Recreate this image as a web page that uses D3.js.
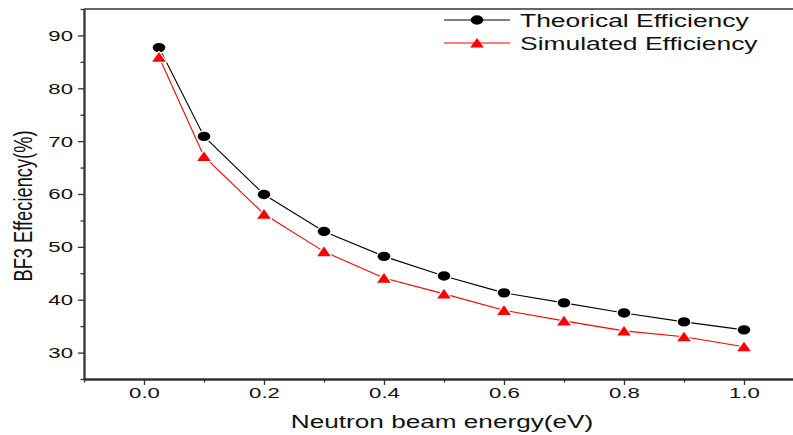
<!DOCTYPE html>
<html>
<head>
<meta charset="utf-8">
<script src="https://cdn.jsdelivr.net/npm/d3@7"></script>
<style>
  body { margin: 0; background: #fff; }
  svg { display: block; font-family: Arial, "Liberation Sans", sans-serif; }
</style>
</head>
<body>
<svg width="793" height="435"></svg>
<script>
// neutron energy (eV)
let energy = [0.025, 0.1, 0.2, 0.3, 0.4, 0.5, 0.6, 0.7, 0.8, 0.9, 1.0];
let theorical = [87.7, 70.9, 59.9, 52.9, 48.2, 44.5, 41.3, 39.4, 37.5, 35.8, 34.3];
let simulated = [85.9, 67.1, 56.2, 49.1, 44.1, 41.1, 38.0, 36.0, 34.1, 33.0, 31.1];
let xMajor = [0.0, 0.2, 0.4, 0.6, 0.8, 1.0];
let xMinor = [-0.1, 0.1, 0.3, 0.5, 0.7, 0.9];
let yMajor = [30, 40, 50, 60, 70, 80, 90];
let yMinor = [25, 35, 45, 55, 65, 75, 85, 95];

let sx = 1.43; // the picture is stretched sideways
let axisColor = "#333";

let svg = d3.select("svg");

let scX = d3.scaleLinear().domain([-0.1, 1.1]).range([84, 804]);
let scY = d3.scaleLinear().domain([25, 95]).range([379, 9]);

// frame top line
svg.append("line")
  .attr("x1", 84).attr("x2", 804)
  .attr("y1", scY(95)).attr("y2", scY(95))
  .attr("stroke", axisColor).attr("stroke-width", 1.6);

function styleAxis(g) {
  g.select(".domain").attr("stroke", axisColor).attr("stroke-width", 1.8);
  g.selectAll(".tick line").attr("stroke", axisColor).attr("stroke-width", 1.3);
}

// y axis
let gy = svg.append("g").attr("transform", "translate(84,0)");
gy.append("g")
  .call(d3.axisLeft(scY).tickValues(yMinor).tickSize(3.5).tickFormat("").tickSizeOuter(0))
  .call(styleAxis);
gy.append("g")
  .call(d3.axisLeft(scY).tickValues(yMajor).tickSize(6).tickSizeOuter(0).tickPadding(5))
  .call(styleAxis)
  .call(g => g.selectAll(".tick text")
    .attr("font-size", 15.5).attr("font-family", "Arial, 'Liberation Sans', sans-serif")
    .attr("fill", "#111")
    .attr("x", -11 / sx)
    .attr("transform", `scale(${sx},1)`));

// x axis
let gx = svg.append("g").attr("transform", "translate(0,379)");
gx.append("g")
  .call(d3.axisBottom(scX).tickValues(xMinor).tickSize(3.5).tickFormat("").tickSizeOuter(0))
  .call(styleAxis);
gx.append("g")
  .call(d3.axisBottom(scX).tickValues(xMajor).tickSize(6).tickSizeOuter(0)
    .tickFormat(d3.format(".1f")))
  .call(styleAxis)
  .call(g => g.selectAll(".tick text")
    .attr("font-size", 15.5).attr("font-family", "Arial, 'Liberation Sans', sans-serif")
    .attr("fill", "#111")
    .attr("y", 8)
    .attr("transform", `scale(${sx},1)`));

// axis titles
svg.append("text")
  .attr("transform", `translate(442,428) scale(${sx},1)`)
  .attr("text-anchor", "middle")
  .attr("font-size", 18.3).attr("fill", "#111")
  .text("Neutron beam energy(eV)");

svg.append("text")
  .attr("transform", `translate(32,206) scale(${sx},1) rotate(-90)`)
  .attr("text-anchor", "middle")
  .attr("font-size", 18.3).attr("fill", "#111")
  .text("BF3 Effeciency(%)");

// lines
let series = [
  { name: "Theorical Efficiency", values: theorical, color: "black", shape: "circle" },
  { name: "Simulated Efficiency", values: simulated, color: "red", shape: "triangle" }
];

let lineMaker = d3.line()
  .x((d, i) => scX(energy[i]))
  .y(d => scY(d));

series.forEach(s => {
  svg.append("path")
    .attr("fill", "none").attr("stroke", s.color).attr("stroke-width", 1.1)
    .attr("d", lineMaker(s.values));
});

let triPath = "M-6.8,4.6L6.8,4.6L0,-5Z";

function drawMarker(g, shape, color) {
  if (shape === "circle") {
    g.append("ellipse").attr("rx", 6.3).attr("ry", 4.7)
      .attr("fill", color).attr("stroke", "white").attr("stroke-width", 2.5)
      .attr("paint-order", "stroke");
  } else {
    g.append("path").attr("d", triPath)
      .attr("fill", color).attr("stroke", "white").attr("stroke-width", 2.5)
      .attr("stroke-linejoin", "round")
      .attr("paint-order", "stroke");
  }
}

series.forEach(s => {
  svg.append("g")
    .selectAll("g")
    .data(s.values)
    .enter()
    .append("g")
    .attr("transform", (d, i) => `translate(${scX(energy[i])},${scY(d)})`)
    .each(function() { drawMarker(d3.select(this), s.shape, s.color); });
});

// legend
let legend = svg.append("g");
series.forEach((s, i) => {
  let y = 20 + i * 23;
  legend.append("line")
    .attr("x1", 444).attr("x2", 510).attr("y1", y).attr("y2", y)
    .attr("stroke", s.color).attr("stroke-width", 1.1);
  let m = legend.append("g").attr("transform", `translate(477,${y})`);
  drawMarker(m, s.shape, s.color);
  m.selectAll("*").attr("stroke", "none");
  legend.append("text")
    .attr("transform", `translate(520,${y + 7}) scale(${sx},1)`)
    .attr("font-size", 18.5).attr("fill", "#111")
    .text(s.name);
});
</script>
</body>
</html>
